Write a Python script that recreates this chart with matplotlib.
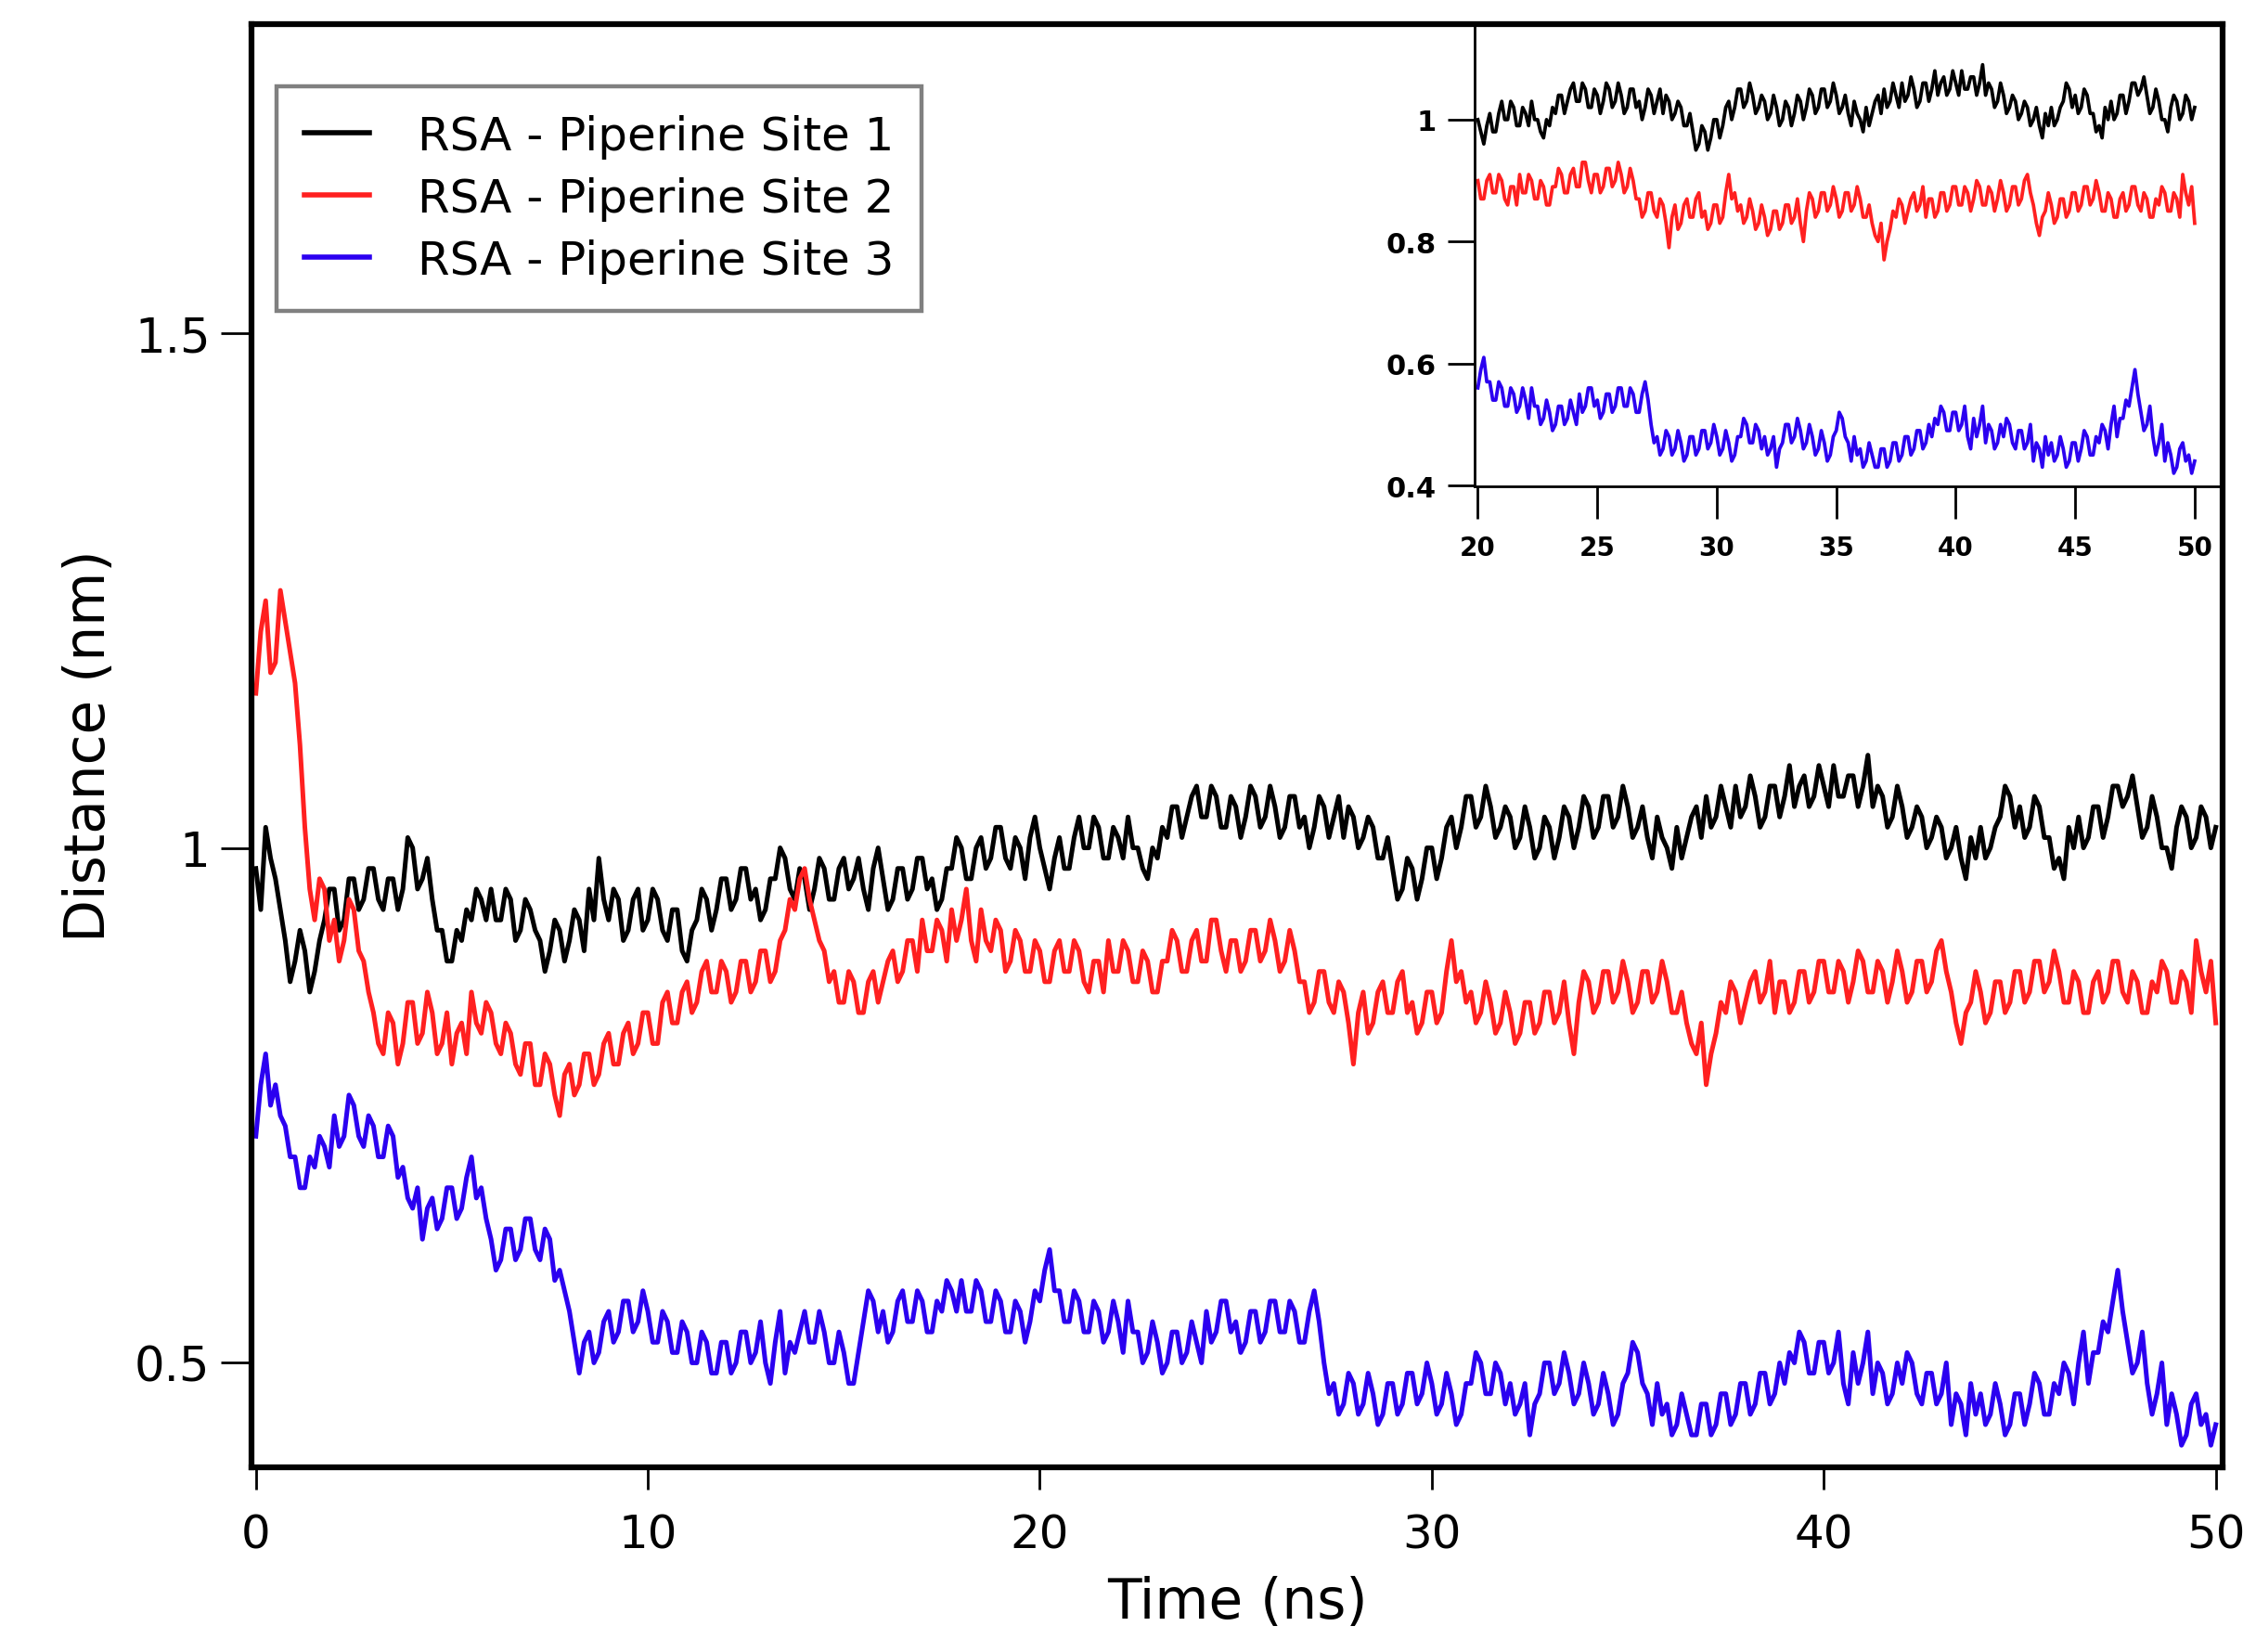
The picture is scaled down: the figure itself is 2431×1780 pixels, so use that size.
import numpy as np
import matplotlib
matplotlib.use('Agg')
import matplotlib.pyplot as plt

# ── Data (0.125 ns steps, one row = 2 ns) ──
time_ns = np.arange(0, 50.0001, 0.125)

site1 = [
    0.98, 0.94, 1.02, 0.99, 0.97, 0.94, 0.91, 0.87, 0.89, 0.92, 0.90, 0.86, 0.88, 0.91, 0.93, 0.96,
    0.96, 0.92, 0.93, 0.97, 0.97, 0.94, 0.95, 0.98, 0.98, 0.95, 0.94, 0.97, 0.97, 0.94, 0.96, 1.01,
    1.00, 0.96, 0.97, 0.99, 0.95, 0.92, 0.92, 0.89, 0.89, 0.92, 0.91, 0.94, 0.93, 0.96, 0.95, 0.93,
    0.96, 0.93, 0.93, 0.96, 0.95, 0.91, 0.92, 0.95, 0.94, 0.92, 0.91, 0.88, 0.90, 0.93, 0.92, 0.89,
    0.91, 0.94, 0.93, 0.90, 0.96, 0.93, 0.99, 0.95, 0.93, 0.96, 0.95, 0.91, 0.92, 0.95, 0.96, 0.92,
    0.93, 0.96, 0.95, 0.92, 0.91, 0.94, 0.94, 0.90, 0.89, 0.92, 0.93, 0.96, 0.95, 0.92, 0.94, 0.97,
    0.97, 0.94, 0.95, 0.98, 0.98, 0.95, 0.96, 0.93, 0.94, 0.97, 0.97, 1.00, 0.99, 0.96, 0.95, 0.98,
    0.97, 0.94, 0.96, 0.99, 0.98, 0.95, 0.95, 0.98, 0.99, 0.96, 0.97, 0.99, 0.96, 0.94, 0.98, 1.00,
    0.97, 0.94, 0.95, 0.98, 0.98, 0.95, 0.96, 0.99, 0.99, 0.96, 0.97, 0.94, 0.95, 0.98, 0.98, 1.01,
    1.00, 0.97, 0.97, 1.00, 1.01, 0.98, 0.99, 1.02, 1.02, 0.99, 0.98, 1.01, 1.00, 0.97, 1.01, 1.03,
    1.00, 0.98, 0.96, 0.99, 1.01, 0.98, 0.98, 1.01, 1.03, 1.00, 1.00, 1.03, 1.02, 0.99, 0.99, 1.02,
    1.01, 0.99, 1.03, 1.00, 1.00, 0.98, 0.97, 1.00, 0.99, 1.02, 1.01, 1.04, 1.04, 1.01, 1.03, 1.05,
    1.06, 1.03, 1.03, 1.06, 1.05, 1.02, 1.02, 1.05, 1.04, 1.01, 1.03, 1.06, 1.05, 1.02, 1.03, 1.06,
    1.04, 1.01, 1.02, 1.05, 1.05, 1.02, 1.03, 1.00, 1.02, 1.05, 1.04, 1.01, 1.03, 1.05, 1.01, 1.04,
    1.03, 1.00, 1.01, 1.03, 1.02, 0.99, 0.99, 1.01, 0.98, 0.95, 0.96, 0.99, 0.98, 0.95, 0.97, 1.00,
    1.00, 0.97, 0.99, 1.02, 1.03, 1.00, 1.02, 1.05, 1.05, 1.02, 1.03, 1.06, 1.04, 1.01, 1.02, 1.04,
    1.03, 1.00, 1.01, 1.04, 1.02, 0.99, 1.00, 1.03, 1.02, 0.99, 1.01, 1.04, 1.03, 1.00, 1.02, 1.05,
    1.04, 1.01, 1.02, 1.05, 1.05, 1.02, 1.03, 1.06, 1.04, 1.01, 1.02, 1.04, 1.01, 0.99, 1.03, 1.01,
    1.00, 0.98, 1.02, 0.99, 1.01, 1.03, 1.04, 1.01, 1.05, 1.02, 1.03, 1.06, 1.04, 1.02, 1.06, 1.03,
    1.04, 1.07, 1.05, 1.02, 1.03, 1.06, 1.06, 1.03, 1.05, 1.08, 1.04, 1.06, 1.07, 1.04, 1.05, 1.08,
    1.06, 1.04, 1.08, 1.05, 1.05, 1.07, 1.07, 1.04, 1.06, 1.09, 1.04, 1.06, 1.05, 1.02, 1.03, 1.06,
    1.04, 1.01, 1.02, 1.04, 1.03, 1.00, 1.01, 1.03, 1.02, 0.99, 1.00, 1.02, 0.99, 0.97, 1.01, 0.99,
    1.02, 0.99, 1.00, 1.02, 1.03, 1.06, 1.05, 1.02, 1.04, 1.01, 1.02, 1.05, 1.04, 1.01, 1.01, 0.98,
    0.99, 0.97, 1.02, 1.00, 1.03, 1.00, 1.01, 1.04, 1.04, 1.01, 1.03, 1.06, 1.06, 1.04, 1.05, 1.07,
    1.04, 1.01, 1.02, 1.05, 1.03, 1.00, 1.00, 0.98, 1.02, 1.04, 1.03, 1.00, 1.01, 1.04, 1.03, 1.00,
    1.02,
]

site2 = [
    1.15, 1.21, 1.24, 1.17, 1.18, 1.25, 1.22, 1.19, 1.16, 1.10, 1.02, 0.96, 0.93, 0.97, 0.96, 0.91,
    0.93, 0.89, 0.91, 0.95, 0.94, 0.90, 0.89, 0.86, 0.84, 0.81, 0.80, 0.84, 0.83, 0.79, 0.81, 0.85,
    0.85, 0.81, 0.82, 0.86, 0.84, 0.80, 0.81, 0.84, 0.79, 0.82, 0.83, 0.80, 0.86, 0.83, 0.82, 0.85,
    0.84, 0.81, 0.80, 0.83, 0.82, 0.79, 0.78, 0.81, 0.81, 0.77, 0.77, 0.80, 0.79, 0.76, 0.74, 0.78,
    0.79, 0.76, 0.77, 0.80, 0.80, 0.77, 0.78, 0.81, 0.82, 0.79, 0.79, 0.82, 0.83, 0.80, 0.81, 0.84,
    0.84, 0.81, 0.81, 0.85, 0.86, 0.83, 0.83, 0.86, 0.87, 0.84, 0.85, 0.88, 0.89, 0.86, 0.86, 0.89,
    0.88, 0.85, 0.86, 0.89, 0.89, 0.86, 0.87, 0.90, 0.90, 0.87, 0.88, 0.91, 0.92, 0.95, 0.94, 0.97,
    0.98, 0.95, 0.93, 0.91, 0.90, 0.87, 0.88, 0.85, 0.85, 0.88, 0.87, 0.84, 0.84, 0.87, 0.88, 0.85,
    0.87, 0.89, 0.90, 0.87, 0.88, 0.91, 0.91, 0.88, 0.93, 0.90, 0.90, 0.93, 0.92, 0.89, 0.94, 0.91,
    0.93, 0.96, 0.91, 0.89, 0.94, 0.91, 0.90, 0.93, 0.92, 0.88, 0.89, 0.92, 0.91, 0.88, 0.88, 0.91,
    0.90, 0.87, 0.87, 0.90, 0.91, 0.88, 0.88, 0.91, 0.90, 0.87, 0.86, 0.89, 0.89, 0.86, 0.91, 0.88,
    0.88, 0.91, 0.90, 0.87, 0.87, 0.90, 0.89, 0.86, 0.86, 0.89, 0.89, 0.92, 0.91, 0.88, 0.88, 0.91,
    0.92, 0.89, 0.89, 0.93, 0.93, 0.90, 0.88, 0.91, 0.91, 0.88, 0.89, 0.92, 0.92, 0.89, 0.90, 0.93,
    0.91, 0.88, 0.89, 0.92, 0.90, 0.87, 0.87, 0.84, 0.85, 0.88, 0.88, 0.85, 0.84, 0.87, 0.86, 0.83,
    0.79, 0.84, 0.86, 0.82, 0.83, 0.86, 0.87, 0.84, 0.84, 0.87, 0.88, 0.84, 0.85, 0.82, 0.83, 0.86,
    0.86, 0.83, 0.84, 0.88, 0.91, 0.87, 0.88, 0.85, 0.86, 0.83, 0.84, 0.87, 0.85, 0.82, 0.83, 0.86,
    0.84, 0.81, 0.82, 0.85, 0.85, 0.82, 0.83, 0.86, 0.86, 0.83, 0.84, 0.87, 0.83, 0.80, 0.85, 0.88,
    0.87, 0.84, 0.85, 0.88, 0.88, 0.85, 0.86, 0.89, 0.87, 0.84, 0.85, 0.88, 0.88, 0.85, 0.86, 0.89,
    0.87, 0.84, 0.84, 0.86, 0.83, 0.81, 0.80, 0.83, 0.77, 0.80, 0.82, 0.85, 0.84, 0.87, 0.86, 0.83,
    0.85, 0.87, 0.88, 0.85, 0.86, 0.89, 0.84, 0.87, 0.87, 0.84, 0.85, 0.88, 0.88, 0.85, 0.86, 0.89,
    0.89, 0.86, 0.86, 0.89, 0.88, 0.85, 0.87, 0.90, 0.89, 0.86, 0.86, 0.89, 0.88, 0.85, 0.87, 0.90,
    0.88, 0.85, 0.86, 0.89, 0.89, 0.86, 0.87, 0.90, 0.91, 0.88, 0.86, 0.83, 0.81, 0.84, 0.85, 0.88,
    0.86, 0.83, 0.84, 0.87, 0.87, 0.84, 0.85, 0.88, 0.88, 0.85, 0.86, 0.89, 0.89, 0.86, 0.87, 0.90,
    0.88, 0.85, 0.85, 0.88, 0.87, 0.84, 0.84, 0.87, 0.88, 0.85, 0.86, 0.89, 0.89, 0.86, 0.85, 0.88,
    0.87, 0.84, 0.84, 0.87, 0.86, 0.89, 0.88, 0.85, 0.85, 0.88, 0.87, 0.84, 0.91, 0.88, 0.86, 0.89,
    0.83,
]

site3 = [
    0.72, 0.77, 0.80, 0.75, 0.77, 0.74, 0.73, 0.70, 0.70, 0.67, 0.67, 0.70, 0.69, 0.72, 0.71, 0.69,
    0.74, 0.71, 0.72, 0.76, 0.75, 0.72, 0.71, 0.74, 0.73, 0.70, 0.70, 0.73, 0.72, 0.68, 0.69, 0.66,
    0.65, 0.67, 0.62, 0.65, 0.66, 0.63, 0.64, 0.67, 0.67, 0.64, 0.65, 0.68, 0.70, 0.66, 0.67, 0.64,
    0.62, 0.59, 0.60, 0.63, 0.63, 0.60, 0.61, 0.64, 0.64, 0.61, 0.60, 0.63, 0.62, 0.58, 0.59, 0.57,
    0.55, 0.52, 0.49, 0.52, 0.53, 0.50, 0.51, 0.54, 0.55, 0.52, 0.53, 0.56, 0.56, 0.53, 0.54, 0.57,
    0.55, 0.52, 0.52, 0.55, 0.54, 0.51, 0.51, 0.54, 0.53, 0.50, 0.50, 0.53, 0.52, 0.49, 0.49, 0.52,
    0.52, 0.49, 0.50, 0.53, 0.53, 0.50, 0.51, 0.54, 0.50, 0.48, 0.52, 0.55, 0.49, 0.52, 0.51, 0.53,
    0.55, 0.52, 0.52, 0.55, 0.53, 0.50, 0.50, 0.53, 0.51, 0.48, 0.48, 0.51, 0.54, 0.57, 0.56, 0.53,
    0.55, 0.52, 0.53, 0.56, 0.57, 0.54, 0.54, 0.57, 0.56, 0.53, 0.53, 0.56, 0.55, 0.58, 0.57, 0.55,
    0.58, 0.55, 0.55, 0.58, 0.57, 0.54, 0.54, 0.57, 0.56, 0.53, 0.53, 0.56, 0.55, 0.52, 0.54, 0.57,
    0.56, 0.59, 0.61, 0.57, 0.57, 0.54, 0.54, 0.57, 0.56, 0.53, 0.53, 0.56, 0.55, 0.52, 0.53, 0.56,
    0.54, 0.51, 0.56, 0.53, 0.53, 0.50, 0.51, 0.54, 0.52, 0.49, 0.50, 0.53, 0.53, 0.50, 0.51, 0.54,
    0.52, 0.50, 0.55, 0.52, 0.53, 0.56, 0.56, 0.53, 0.54, 0.51, 0.52, 0.55, 0.55, 0.52, 0.53, 0.56,
    0.56, 0.53, 0.53, 0.56, 0.55, 0.52, 0.52, 0.55, 0.57, 0.54, 0.50, 0.47, 0.48, 0.45, 0.46, 0.49,
    0.48, 0.45, 0.46, 0.49, 0.47, 0.44, 0.45, 0.48, 0.48, 0.45, 0.46, 0.49, 0.49, 0.46, 0.47, 0.50,
    0.48, 0.45, 0.46, 0.49, 0.47, 0.44, 0.45, 0.48, 0.48, 0.51, 0.50, 0.47, 0.47, 0.50, 0.49, 0.46,
    0.48, 0.45, 0.46, 0.48, 0.43, 0.46, 0.47, 0.50, 0.50, 0.47, 0.48, 0.51, 0.49, 0.46, 0.47, 0.50,
    0.48, 0.45, 0.46, 0.49, 0.47, 0.44, 0.45, 0.48, 0.49, 0.52, 0.51, 0.48, 0.47, 0.44, 0.48, 0.45,
    0.46, 0.43, 0.44, 0.47, 0.45, 0.43, 0.43, 0.46, 0.46, 0.43, 0.44, 0.47, 0.47, 0.44, 0.45, 0.48,
    0.48, 0.45, 0.46, 0.49, 0.49, 0.46, 0.47, 0.50, 0.48, 0.51, 0.50, 0.53, 0.52, 0.49, 0.49, 0.52,
    0.52, 0.49, 0.50, 0.53, 0.48, 0.46, 0.51, 0.48, 0.50, 0.53, 0.47, 0.50, 0.49, 0.46, 0.47, 0.50,
    0.48, 0.51, 0.50, 0.47, 0.46, 0.49, 0.49, 0.46, 0.47, 0.50, 0.44, 0.47, 0.46, 0.43, 0.48, 0.45,
    0.47, 0.44, 0.45, 0.48, 0.46, 0.43, 0.44, 0.47, 0.47, 0.44, 0.46, 0.49, 0.48, 0.45, 0.45, 0.48,
    0.47, 0.50, 0.49, 0.46, 0.50, 0.53, 0.48, 0.51, 0.51, 0.54, 0.53, 0.56, 0.59, 0.55, 0.52, 0.49,
    0.50, 0.53, 0.48, 0.45, 0.47, 0.50, 0.44, 0.47, 0.45, 0.42, 0.43, 0.46, 0.47, 0.44, 0.45, 0.42,
    0.44,
]

labels = ['RSA - Piperine Site 1', 'RSA - Piperine Site 2', 'RSA - Piperine Site 3']
colors = ['#000000', '#ff2020', '#2b00f0']
main_xticks = [0, 10, 20, 30, 40, 50]
main_yticks = [0.5, 1.0, 1.5]
main_yticklabels = ['0.5', '1', '1.5']
inset_xticks = [20, 25, 30, 35, 40, 45, 50]
inset_yticks = [0.4, 0.6, 0.8, 1.0]
inset_yticklabels = ['0.4', '0.6', '0.8', '1']

plt.rcParams['font.family'] = ['DejaVu Sans']

fig = plt.figure(figsize=(24.31, 17.81), dpi=100)
ax = fig.add_axes([0.1115, 0.112, 0.8738, 0.873])

series = [site1, site2, site3]
for y, c, lab in zip(series, colors, labels):
    ax.plot(time_ns, y, color=c, lw=3.6, label=lab)

ax.set_xlim(-0.11, 50.18)
ax.set_ylim(0.399, 1.80)
ax.set_xticks(main_xticks)
ax.set_yticks(main_yticks)
ax.set_yticklabels(main_yticklabels)
for s in ax.spines.values():
    s.set_linewidth(4.5)
    s.set_zorder(5)
ax.tick_params(axis='y', direction='out', length=24, width=2, pad=8,
               labelsize=37, colors='black')
ax.tick_params(axis='x', direction='out', length=17, width=2, pad=18,
               labelsize=36)
ax.set_xlabel('Time (ns)', fontsize=43, labelpad=14)
ax.set_ylabel('Distance (nm)', fontsize=43, labelpad=14)

leg = ax.legend(loc='upper left', bbox_to_anchor=(0.0125, 0.957),
                borderaxespad=0, fontsize=36, fancybox=False,
                handlelength=1.4, handletextpad=1.05, borderpad=0.6,
                labelspacing=0.38, framealpha=1)
leg.get_frame().set_edgecolor('#808080')
leg.get_frame().set_linewidth(3.2)
for h in leg.get_lines():
    h.set_linewidth(4)

# ── Inset: 20-50 ns zoom ───────────────────────────────
ins = fig.add_axes([0.6538, 0.705, 0.3312, 0.28])
ins.set_facecolor('none')
t = np.asarray(time_ns)
mask = t >= 20
for y, c in zip(series, colors):
    ins.plot(t[mask], np.asarray(y)[mask], color=c, lw=2.7)
ins.set_xlim(19.88, 51.15)
ins.set_ylim(0.398, 1.157)
ins.set_xticks(inset_xticks)
ins.set_yticks(inset_yticks)
ins.set_yticklabels(inset_yticklabels)
ins.spines['top'].set_visible(False)
ins.spines['right'].set_visible(False)
ins.spines['left'].set_linewidth(2)
ins.spines['bottom'].set_linewidth(2)
ins.tick_params(axis='y', direction='out', length=21, width=2, pad=9,
                labelsize=22)
ins.tick_params(axis='x', direction='out', length=25, width=2, pad=12,
                labelsize=20)
for lab in ins.get_xticklabels() + ins.get_yticklabels():
    lab.set_fontweight('bold')

fig.savefig('out.png', dpi=100, facecolor='white')
